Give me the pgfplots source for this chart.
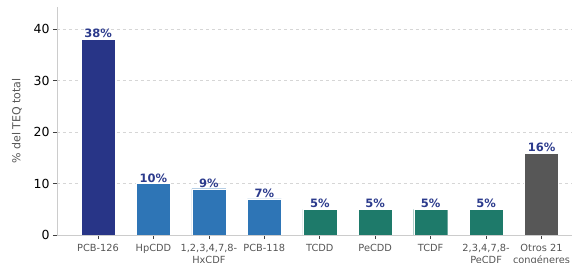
\documentclass[border=0pt]{standalone}
\usepackage{pgfplots}
\pgfplotsset{compat=1.18}
\usepackage{fontspec}
\setmainfont{DejaVu Sans}
\definecolor{navy}{HTML}{283587}
\definecolor{midblue}{HTML}{2E75B6}
\definecolor{teal2}{HTML}{1E7A6A}
\definecolor{gray5}{HTML}{575757}
\definecolor{lbl}{HTML}{2B3A8C}
\definecolor{spine}{HTML}{CCCCCC}
\definecolor{ticklbl}{HTML}{555555}
\begin{document}
\begin{tikzpicture}
\begin{axis}[
  at={(0,0)}, anchor=south west,
  scale only axis,
  width=515bp, height=228bp,
  xmin=-0.74, xmax=8.55,
  ymin=0, ymax=44.3,
  axis x line*=bottom, axis y line*=left,
  axis line style={spine, line width=0.8pt, -},
  ybar, bar width=34bp, bar shift=0pt,
  xtick={0,...,8},
  xticklabels={PCB-126,HpCDD,{1,2,3,4,7,8-\\HxCDF},PCB-118,TCDD,PeCDD,TCDF,{2,3,4,7,8-\\PeCDF},{Otros 21\\congéneres}},
  xticklabel style={align=center, font=\fontsize{9.8bp}{12.5bp}\selectfont, text=ticklbl, inner sep=1pt, yshift=-4bp},
  ytick={0,10,20,30,40},
  yticklabel style={font=\fontsize{12.5bp}{13bp}\selectfont, text=black},
  /pgf/number format/assume math mode=true,
  tick style={black!75, line width=0.7pt},
  tick align=outside,
  major tick length=4bp,
  ymajorgrids,
  grid style={dashed, spine!80, line width=0.4pt},
  ylabel={\% del TEQ total},
  ylabel style={font=\fontsize{11bp}{12bp}\selectfont, text=ticklbl, at={(axis description cs:-0.0777,0.5)}, anchor=center, rotate=0},
  nodes near coords={\pgfmathprintnumber{\pgfplotspointmeta}\%},
  nodes near coords style={font=\bfseries\fontsize{11.5bp}{12bp}\selectfont, text=lbl, inner sep=1.2bp},
  every axis plot/.append style={draw=white, line width=0.2pt},
]
\addplot[fill=navy] coordinates {(0,38)};
\addplot[fill=midblue] coordinates {(1,10) (2,9) (3,7)};
\addplot[fill=teal2] coordinates {(4,5) (5,5) (6,5) (7,5)};
\addplot[fill=gray5] coordinates {(8,16)};
\end{axis}
\pgfresetboundingbox
\path[use as bounding box] (-57bp,-28bp) rectangle (515bp,235bp);
\end{tikzpicture}
\end{document}
